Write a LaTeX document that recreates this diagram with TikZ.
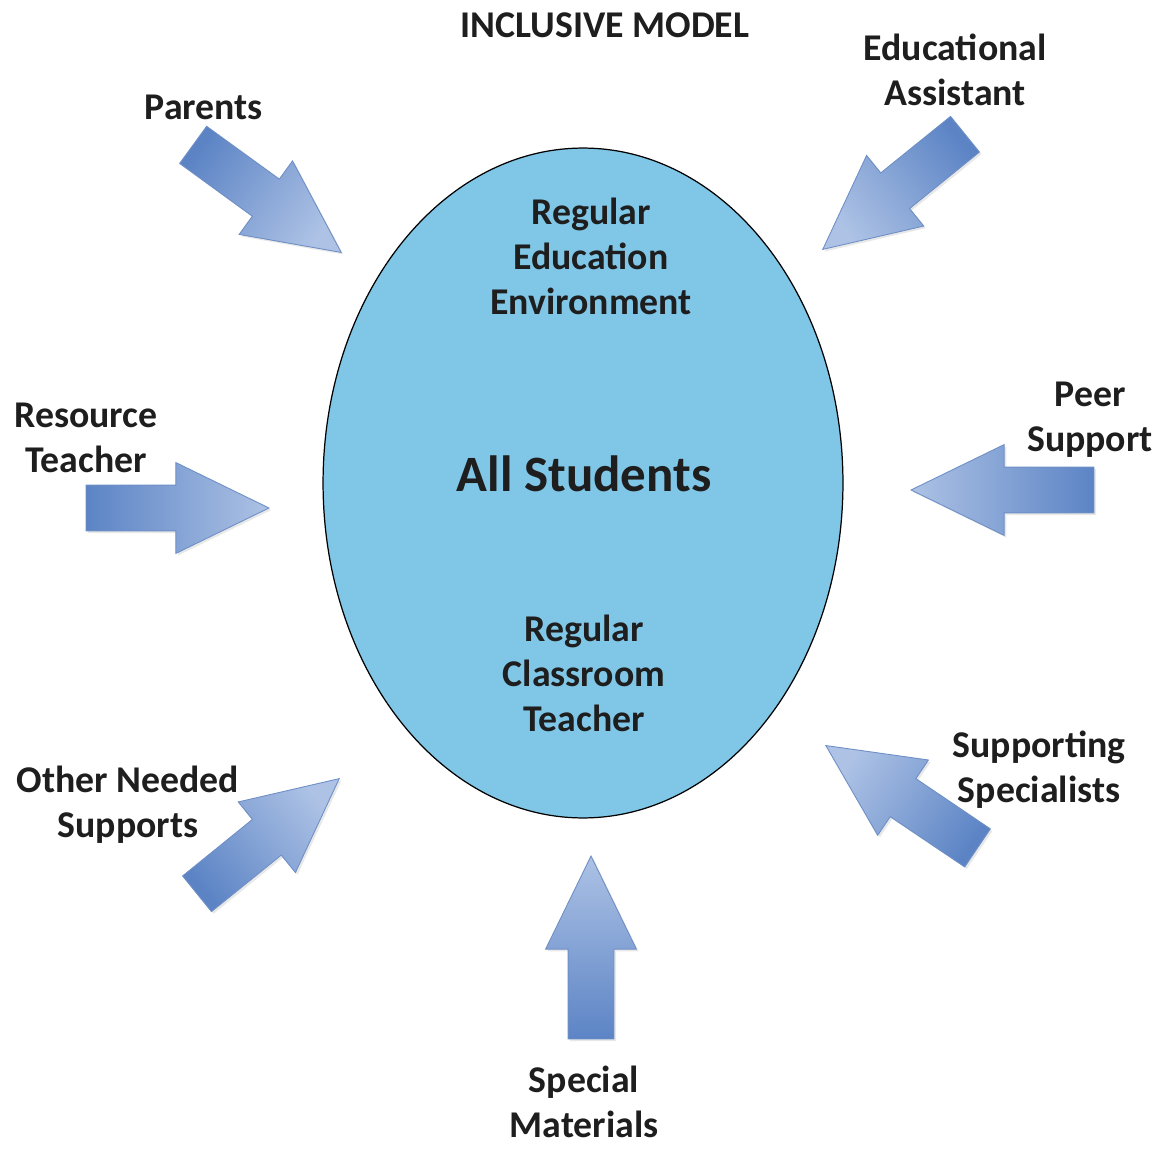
\documentclass[tikz,border=0pt]{standalone}
\usepackage{fontspec}
\setmainfont{Carlito}
\usetikzlibrary{shapes.arrows,shapes.geometric,shadows}
\definecolor{ellfill}{HTML}{80C6E6}
\definecolor{arrdark}{HTML}{5C84C5}
\definecolor{arrlight}{HTML}{ADC2E5}
\definecolor{arrline}{HTML}{6E8FC6}
\definecolor{txt}{HTML}{1E1E1E}
\tikzset{
  bigarrow/.style 2 args={single arrow, draw=arrline, line width=0.5pt,
    anchor=tip, rotate=#1,
    left color=arrdark, right color=arrlight, shading angle=#2,
    drop shadow={opacity=0.18, shadow xshift=1.2pt, shadow yshift=-1.2pt},
    inner sep=0.45cm, minimum height=3.66cm,
    single arrow head extend=0.45cm, single arrow tip angle=52},
  lbl/.style={text=txt, font=\fontsize{21.5}{25.6}\selectfont\bfseries, align=center, inner sep=0pt},
  big/.style={text=txt, font=\fontsize{29}{34}\selectfont\bfseries, inner sep=0pt}
}
\begin{document}
\begin{tikzpicture}[x=0.02cm,y=-0.02cm]
\useasboundingbox[fill=white] (0,0) rectangle (1158,1148);
\node[ellipse, draw=black, line width=0.7pt, fill=ellfill, minimum width=10.4cm, minimum height=13.4cm] (ell) at (583,483) {};
\node[lbl] (title) at (605,25) {INCLUSIVE MODEL};
\node[lbl] (ree) at (591,256) {Regular\\Education\\Environment};
\node[big] (all) at (584,474) {All Students};
\node[lbl] (rct) at (584,673) {Regular\\Classroom\\Teacher};
\node[lbl] (par) at (204,107) {Parents};
\node[lbl] (ea) at (955,70) {Educational\\Assistant};
\node[lbl] (rt) at (86,438) {Resource\\Teacher};
\node[lbl] (ps) at (1090,420) {Peer\\Support};
\node[lbl] (ons) at (128,805) {Other Needed\\Supports};
\node[lbl] (ss) at (1039,770) {Supporting\\Specialists};
\node[lbl] (sm) at (584,1102) {Special\\Materials};
\node[bigarrow={-36}{54}] (a1) at (342,253) {};
\node[bigarrow={-141}{-51}] (a2) at (822,250) {};
\node[bigarrow={0}{90}] (a3) at (270,508) {};
\node[bigarrow={180}{270}] (a4) at (910,490) {};
\node[bigarrow={39}{129}] (a5) at (340,778) {};
\node[bigarrow={146}{236}] (a6) at (825,745) {};
\node[bigarrow={90}{180}] (a7) at (591,855) {};
\end{tikzpicture}
\end{document}
